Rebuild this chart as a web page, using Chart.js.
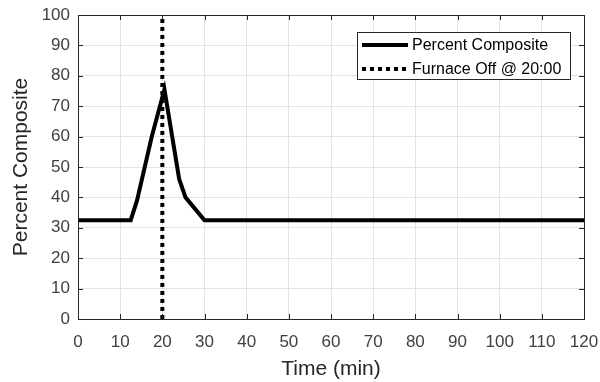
<!DOCTYPE html>
<html>
<head>
<meta charset="utf-8">
<script src="https://cdn.jsdelivr.net/npm/chart.js@4/dist/chart.umd.min.js"></script>
<style>
  html, body { margin: 0; padding: 0; background: #fff; }
  #wrap { width: 600px; height: 382px; }
</style>
</head>
<body>
<div id="wrap"><canvas id="compositeChart"></canvas></div>
<script>
// composite reading over the run
const timeMin = [0, 12.5, 14, 17.5, 20.5, 24, 25.5, 30, 120];
const composite = [32.5, 32.5, 39, 60, 75.5, 46, 40, 32.5, 32.5];

// furnace shut-off marker
const furnaceX = [20, 20];
const furnaceY = [0, 100];

const xTicks = [0, 10, 20, 30, 40, 50, 60, 70, 80, 90, 100, 110, 120];
const yTicks = [0, 10, 20, 30, 40, 50, 60, 70, 80, 90, 100];

const FONT = "'Liberation Sans', Arial, Helvetica, sans-serif";
const AXIS_COLOR = "#262626";
const LABEL_COLOR = "#404040";

function toPoints(xs, ys) {
    return xs.map((x, i) => ({ x: x, y: ys[i] }));
}

// axes box with inward ticks on all four sides
const boxPlugin = {
    id: "boxAxes",
    afterDraw(chart) {
        const { ctx, chartArea: a, scales } = chart;
        ctx.save();
        ctx.strokeStyle = AXIS_COLOR;
        ctx.lineWidth = 1;
        ctx.strokeRect(a.left + 0.5, a.top + 0.5, a.right - a.left, a.bottom - a.top);
        const len = 5;
        ctx.beginPath();
        xTicks.forEach(v => {
            const px = Math.round(scales.x.getPixelForValue(v)) + 0.5;
            ctx.moveTo(px, a.bottom); ctx.lineTo(px, a.bottom - len);
            ctx.moveTo(px, a.top); ctx.lineTo(px, a.top + len);
        });
        yTicks.forEach(v => {
            const py = Math.round(scales.y.getPixelForValue(v)) + 0.5;
            ctx.moveTo(a.left, py); ctx.lineTo(a.left + len, py);
            ctx.moveTo(a.right, py); ctx.lineTo(a.right - len, py);
        });
        ctx.stroke();
        ctx.restore();
    }
};

// boxed legend in the upper right
const legendPlugin = {
    id: "boxLegend",
    afterDraw(chart) {
        const { ctx } = chart;
        const left = 357, top = 32, w = 213, h = 47;
        ctx.save();
        ctx.fillStyle = "#fff";
        ctx.fillRect(left, top, w, h);
        ctx.strokeStyle = "#262626";
        ctx.lineWidth = 1;
        ctx.strokeRect(left + 0.5, top + 0.5, w, h);
        ctx.font = "16px " + FONT;
        ctx.textBaseline = "middle";
        chart.data.datasets.forEach((ds, i) => {
            const y = top + 13 + i * 24;
            ctx.beginPath();
            ctx.strokeStyle = ds.borderColor;
            ctx.lineWidth = ds.borderWidth;
            ctx.setLineDash(ds.borderDash || []);
            ctx.moveTo(left + 5, y);
            ctx.lineTo(left + 51, y);
            ctx.stroke();
            ctx.setLineDash([]);
            ctx.fillStyle = "#000";
            ctx.fillText(ds.label, left + 55, y + 1);
        });
        ctx.restore();
    }
};

new Chart(document.getElementById("compositeChart").getContext("2d"), {
    type: "line",
    data: {
        datasets: [
            {
                label: "Percent Composite",
                data: toPoints(timeMin, composite),
                borderColor: "#000",
                borderWidth: 4,
                pointRadius: 0,
                tension: 0,
                fill: false
            },
            {
                label: "Furnace Off @ 20:00",
                data: toPoints(furnaceX, furnaceY),
                borderColor: "#000",
                borderWidth: 4,
                borderDash: [4, 4],
                pointRadius: 0,
                fill: false
            }
        ]
    },
    options: {
        responsive: true,
        maintainAspectRatio: false,
        animation: false,
        layout: { padding: { top: 15, right: 16, left: 0, bottom: 0 } },
        plugins: {
            legend: { display: false },
            tooltip: { enabled: false }
        },
        scales: {
            x: {
                type: "linear",
                min: 0,
                max: 120,
                afterBuildTicks: axis => { axis.ticks = xTicks.map(v => ({ value: v })); },
                afterFit: axis => {
                    axis.height = 63;
                    axis.paddingLeft = 0;
                    axis.paddingRight = 0;
                },
                grid: { color: "#e3e3e3", drawTicks: false },
                border: { display: false },
                ticks: {
                    padding: 13,
                    color: LABEL_COLOR,
                    maxRotation: 0,
                    font: { family: FONT, size: 17 }
                },
                title: {
                    display: true,
                    text: "Time (min)",
                    color: AXIS_COLOR,
                    padding: { top: 3, bottom: 0 },
                    font: { family: FONT, size: 21 }
                }
            },
            y: {
                min: 0,
                max: 100,
                afterBuildTicks: axis => { axis.ticks = yTicks.map(v => ({ value: v })); },
                afterFit: axis => {
                    axis.width = 78;
                    axis.paddingTop = 0;
                    axis.paddingBottom = 0;
                },
                grid: { color: "#e3e3e3", drawTicks: false },
                border: { display: false },
                ticks: {
                    padding: 8,
                    color: LABEL_COLOR,
                    font: { family: FONT, size: 17 }
                },
                title: {
                    display: true,
                    text: "Percent Composite",
                    color: AXIS_COLOR,
                    padding: { top: 9, bottom: 0 },
                    font: { family: FONT, size: 21 }
                }
            }
        }
    },
    plugins: [boxPlugin, legendPlugin]
});
</script>
</body>
</html>
